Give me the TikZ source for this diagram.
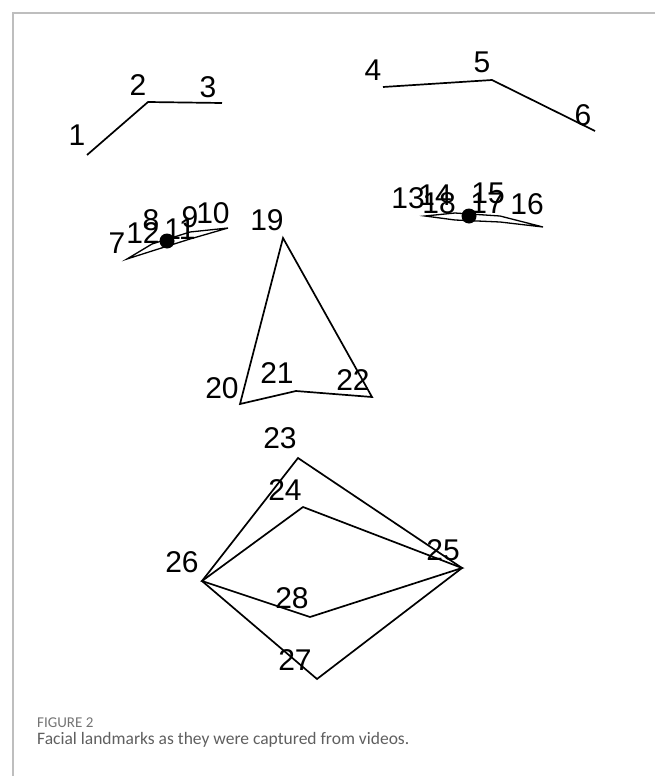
\documentclass[tikz,border=0pt]{standalone}
\usepackage{fontspec}
\setmainfont{Liberation Sans}
\newfontfamily\captionfont{Carlito}
\usepackage{tikz}
\usetikzlibrary{positioning}

\definecolor{framegray}{RGB}{190,190,190}
\definecolor{capgray}{RGB}{95,95,95}
\definecolor{fignogray}{RGB}{115,115,115}

\tikzset{
  mark line/.style={line width=1.7pt, black, line join=miter},
  mark label/.style={inner sep=0pt, font=\fontsize{30}{30}\selectfont},
  pupil/.style={fill=black}
}

\begin{document}
\begin{tikzpicture}[x=1pt, y=-1pt]
    \useasboundingbox (0,0) rectangle (655,776);
    % Frame
    \draw[framegray, line width=1.5pt] (13,776) -- (13,13) -- (655,13);

    % Eyebrows
    \coordinate (p1) at (87,155);
    \coordinate (p2) at (148,102);
    \coordinate (p3) at (222,103);
    \coordinate (p4) at (383,87);
    \coordinate (p5) at (492,80);
    \coordinate (p6) at (595,131);
    \draw[mark line] (p1) -- (p2) -- (p3);
    \draw[mark line] (p4) -- (p5) -- (p6);

    % Left eye
    \coordinate (p7) at (127,259);
    \coordinate (p8) at (152,244);
    \coordinate (p9) at (190,232);
    \coordinate (p10) at (228,228);
    \coordinate (p11) at (190,239);
    \coordinate (p12) at (152,251);
    \draw[mark line, line width=1.3pt] (p7) -- (p8) -- (p9) -- (p10) -- (p11) -- (p12) -- cycle;
    \fill[pupil] (167,241) circle (7.5);

    % Right eye
    \coordinate (p13) at (425,216);
    \coordinate (p14) at (455,213);
    \coordinate (p15) at (500,216);
    \coordinate (p16) at (543,227);
    \coordinate (p17) at (500,222);
    \coordinate (p18) at (455,220);
    \draw[mark line, line width=1.3pt] (p13) -- (p14) -- (p15) -- (p16) -- (p17) -- (p18) -- cycle;
    \fill[pupil] (469,216) circle (7.5);

    % Nose
    \coordinate (p19) at (283,238);
    \coordinate (p20) at (240,404);
    \coordinate (p21) at (296,391);
    \coordinate (p22) at (372,397);
    \draw[mark line] (p19) -- (p20) -- (p21) -- (p22) -- cycle;

    % Mouth
    \coordinate (p23) at (298,458);
    \coordinate (p24) at (303,507);
    \coordinate (p25) at (462,568);
    \coordinate (p26) at (202,581);
    \coordinate (p27) at (317,679);
    \coordinate (p28) at (310,617);
    \draw[mark line] (p26) -- (p23) -- (p25) -- (p27) -- cycle;
    \draw[mark line] (p26) -- (p24) -- (p25) -- (p28) -- cycle;

    % Landmark numbers
    \node[mark label] (l1) at (77,135) {1};
    \node[mark label] (l2) at (138,85) {2};
    \node[mark label] (l3) at (208,87) {3};
    \node[mark label] (l4) at (373,70) {4};
    \node[mark label] (l5) at (482,62) {5};
    \node[mark label] (l6) at (583,115) {6};
    \node[mark label] (l7) at (117,243) {7};
    \node[mark label] (l12) at (143,233) {12};
    \node[mark label] (l8) at (151,220) {8};
    \node[mark label] (l11) at (180,229) {11};
    \node[mark label] (l9) at (190,217) {9};
    \node[mark label] (l10) at (213,213) {10};
    \node[mark label] (l13) at (408,198) {13};
    \node[mark label] (l14) at (435,195) {14};
    \node[mark label] (l18) at (439,203) {18};
    \node[mark label] (l15) at (488,193) {15};
    \node[mark label] (l17) at (487,203) {17};
    \node[mark label] (l16) at (527,204) {16};
    \node[mark label] (l19) at (267,220) {19};
    \node[mark label] (l20) at (222,388) {20};
    \node[mark label] (l21) at (277,373) {21};
    \node[mark label] (l22) at (353,380) {22};
    \node[mark label] (l23) at (280,438) {23};
    \node[mark label] (l24) at (285,490) {24};
    \node[mark label] (l25) at (443,550) {25};
    \node[mark label] (l26) at (182,562) {26};
    \node[mark label] (l27) at (295,660) {27};
    \node[mark label] (l28) at (292,598) {28};

    % Caption
    \node[anchor=west, inner sep=0pt, font=\captionfont\fontsize{15}{15}\selectfont, text=fignogray] (figno) at (37,723) {FIGURE 2};
    \node[anchor=west, inner sep=0pt, font=\captionfont\fontsize{17.5}{17.5}\selectfont, text=capgray] (caption) at (37,740) {Facial landmarks as they were captured from videos.};
\end{tikzpicture}
\end{document}
